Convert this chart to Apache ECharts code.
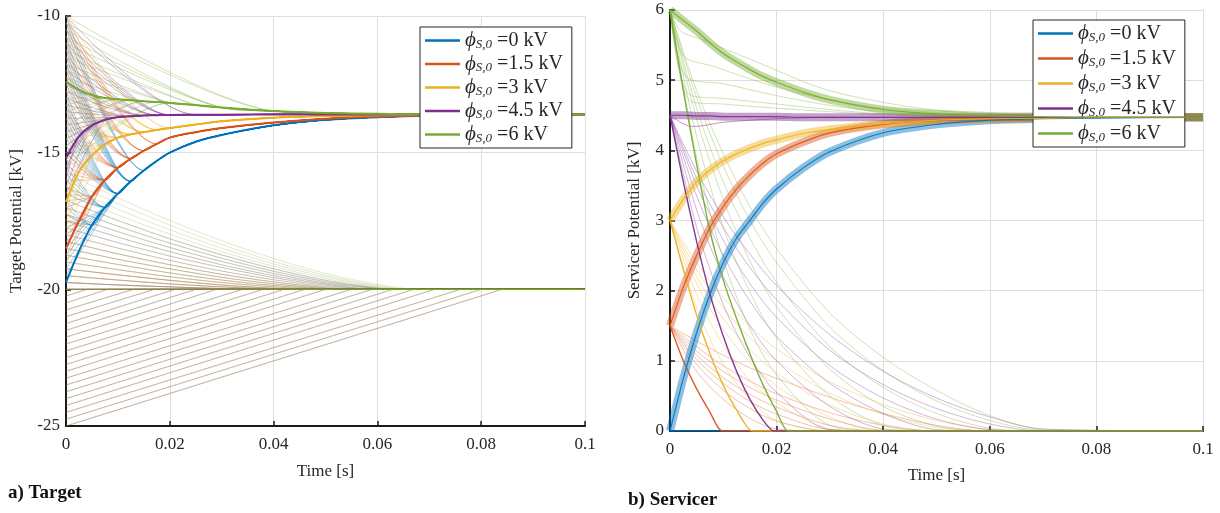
<!DOCTYPE html>
<html>
<head>
<meta charset="utf-8">
<script src="https://cdn.jsdelivr.net/npm/echarts@6/dist/echarts.min.js"></script>
<style>
  html, body { margin: 0; background: #fff; }
  #main { width: 1220px; height: 513px; }
</style>
</head>
<body>
<div id="main"></div>
<script>
// servicer initial potential families (legend)
const phiLabels = ['0', '1.5', '3', '4.5', '6'];
const colors = ['#0072BD', '#D95319', '#EDB120', '#7E2F8E', '#77AC30'];

// common time grid for the main (bold) trajectories
const tB = [0, 0.0025, 0.005, 0.0075, 0.01, 0.0125, 0.015, 0.0175, 0.02, 0.025, 0.03, 0.04, 0.05, 0.06, 0.07, 0.08, 0.1];

// ---- a) target potential, main trajectories [kV]
const tgtBlue   = [-19.75, -18.6, -17.65, -17.0, -16.5, -16.05, -15.65, -15.3, -15.0, -14.6, -14.35, -14.0, -13.8, -13.7, -13.65, -13.62, -13.6];
const tgtOrange = [-18.5, -17.5, -16.6, -16.0, -15.55, -15.22, -14.93, -14.68, -14.45, -14.25, -14.1, -13.9, -13.76, -13.68, -13.64, -13.62, -13.6];
const tgtYellow = [-16.8, -15.7, -15.1, -14.7, -14.45, -14.33, -14.25, -14.17, -14.1, -13.97, -13.85, -13.72, -13.66, -13.63, -13.61, -13.6, -13.6];
const tgtPurple = [-15.2, -14.4, -14.0, -13.8, -13.7, -13.67, -13.64, -13.63, -13.62, -13.61, -13.61, -13.6, -13.6, -13.6, -13.6, -13.6, -13.6];
const tgtGreen  = [-12.4, -12.7, -12.9, -13.0, -13.05, -13.08, -13.12, -13.15, -13.18, -13.26, -13.35, -13.48, -13.55, -13.58, -13.6, -13.6, -13.6];

// thin target runs that settle onto the main trajectory: start value and the time they join it
const blueStarts = [-10, -10.25, -10.5, -10.75, -11, -11.25, -11.5, -11.75, -12, -12.25, -12.5, -12.75, -13, -13.25, -13.5, -13.75, -14, -14.25, -14.5, -14.75,
  -15, -15.25, -15.5, -15.75, -16, -16.25, -16.5, -16.75, -17, -17.25, -17.5, -17.75, -18, -18.25, -18.5, -18.75, -19, -19.25, -19.5];
const blueJoin = [0.015, 0.015, 0.015, 0.0125, 0.0125, 0.0125, 0.0125, 0.0125, 0.0125, 0.0125, 0.0125, 0.01, 0.01, 0.01, 0.01, 0.01, 0.01, 0.01, 0.01, 0.01,
  0.01, 0.0075, 0.0075, 0.0075, 0.0075, 0.0075, 0.0075, 0.005, 0.005, 0.005, 0.005, 0.0075, 0.0075, 0.0075, 0.0075, 0.01, 0.01, 0.01, 0.01];
const orangeStarts = [-10, -10.25, -10.5, -10.75, -11, -11.25, -11.5, -11.75, -12, -12.25, -12.5, -12.75, -13, -13.25, -13.5, -13.75, -14, -14.25, -14.5,
  -14.75, -15, -15.25, -15.5, -15.75, -16, -16.25, -16.5, -16.75, -17, -17.25, -17.5, -17.75, -18, -18.25, -18.5, -18.75, -19];
const orangeJoin = [0.0175, 0.0175, 0.0175, 0.015, 0.015, 0.015, 0.015, 0.0125, 0.0125, 0.0125, 0.0125, 0.0125, 0.0125, 0.01, 0.01, 0.01, 0.01, 0.01, 0.01,
  0.0075, 0.0075, 0.0075, 0.0075, 0.0075, 0.0075, 0.005, 0.005, 0.005, 0.005, 0.0025, 0.0025, 0.0025, 0.0025, 0.005, 0.005, 0.0075, 0.0075];
const yellowStarts = [-10, -10.25, -10.5, -10.75, -11, -11.25, -11.5, -11.75, -12, -12.25, -12.5, -12.75, -13, -13.25, -13.5, -13.75, -14,
  -14.25, -14.5, -14.75, -15, -15.25, -15.5, -15.75, -16, -16.25, -16.5, -16.75, -17, -17.25, -17.5, -17.75, -18];
const yellowJoin = [0.02, 0.02, 0.0175, 0.0175, 0.0175, 0.0175, 0.015, 0.015, 0.015, 0.015, 0.0125, 0.0125, 0.0125, 0.0125, 0.01, 0.01, 0.01,
  0.01, 0.0075, 0.0075, 0.0075, 0.0075, 0.005, 0.005, 0.005, 0.005, 0.0025, 0.0025, 0.0025, 0.0025, 0.005, 0.005, 0.0075];
const purpleStarts = [-10, -10.25, -10.5, -10.75, -11, -11.25, -11.5, -11.75, -12, -12.25, -12.5, -12.75, -13, -13.25,
  -13.5, -13.75, -14, -14.25, -14.5, -14.75, -15, -15.25, -15.5, -15.75, -16, -16.25, -16.5];
const purpleJoin = [0.025, 0.025, 0.02, 0.02, 0.02, 0.02, 0.0175, 0.0175, 0.0175, 0.015, 0.015, 0.015, 0.0125, 0.0125,
  0.0125, 0.01, 0.01, 0.01, 0.0075, 0.0075, 0.005, 0.005, 0.005, 0.0025, 0.0025, 0.005, 0.0075];
const greenStarts = [-10, -10.25, -10.5, -10.75, -11, -11.25, -11.5, -11.75, -12, -12.25, -12.5, -12.75,
  -13, -13.25, -13.5, -13.75, -14, -14.25, -14.5, -14.75, -15, -15.25, -15.5];
const greenJoin = [0.04, 0.04, 0.03, 0.03, 0.03, 0.025, 0.025, 0.02, 0.02, 0.015, 0.0075, 0.005,
  0.0075, 0.0075, 0.01, 0.01, 0.0125, 0.0125, 0.015, 0.015, 0.0175, 0.02, 0.02];

// thin target runs that fall back to -20 kV (values at tDecL, then end time)
const tDecL = [0, 0.01, 0.02, 0.03, 0.04, 0.05, 0.06];
const tgtDecay = [
  [-15.75, -16.65, -17.48, -18.22, -18.87, -19.42, -19.82],
  [-16.0, -16.86, -17.65, -18.36, -18.98, -19.49, -19.87],
  [-16.25, -17.07, -17.82, -18.49, -19.07, -19.55, -19.9],
  [-16.5, -17.28, -17.98, -18.62, -19.16, -19.61, -19.93],
  [-16.75, -17.48, -18.15, -18.74, -19.25, -19.67, -19.95],
  [-17.0, -17.69, -18.31, -18.86, -19.34, -19.72, -19.97],
  [-17.25, -17.89, -18.47, -18.98, -19.42, -19.77, -19.98],
  [-17.5, -18.09, -18.62, -19.1, -19.5, -19.81, -20],
  [-17.75, -18.29, -18.78, -19.2, -19.57, -19.85],
  [-18.0, -18.49, -18.94, -19.33, -19.65, -19.9],
  [-18.25, -18.7, -19.1, -19.45, -19.73, -19.94],
  [-18.5, -18.9, -19.25, -19.56, -19.8, -19.97],
  [-18.75, -19.09, -19.4, -19.66, -19.86, -19.99],
  [-19.0, -19.28, -19.54, -19.75, -19.91],
  [-19.25, -19.47, -19.67, -19.84, -19.96],
  [-19.5, -19.66, -19.8, -19.91, -19.99],
  [-19.75, -19.84, -19.91, -19.97]
];
const tgtDecayEnd = [0.068, 0.067, 0.066, 0.065, 0.064, 0.063, 0.062, 0.061, 0.06, 0.058, 0.056, 0.054, 0.052, 0.05, 0.047, 0.044, 0.04];

// straight ramps from below up to -20 kV
const rampStarts = [-20.25, -20.5, -20.75, -21, -21.25, -21.5, -21.75, -22, -22.25, -22.5, -22.75, -23, -23.25, -23.5, -23.75, -24, -24.25, -24.5, -24.75, -25];
const rampEnds   = [0.004, 0.008, 0.013, 0.017, 0.021, 0.025, 0.029, 0.034, 0.038, 0.042, 0.046, 0.05, 0.055, 0.059, 0.063, 0.067, 0.071, 0.076, 0.08, 0.084];

// ---- b) servicer potential, main bands [kV]
const svcBlue   = [0, 0.75, 1.4, 1.95, 2.4, 2.75, 3.0, 3.25, 3.45, 3.75, 3.98, 4.25, 4.37, 4.43, 4.45, 4.46, 4.47];
const svcOrange = [1.5, 2.05, 2.5, 2.9, 3.2, 3.45, 3.65, 3.82, 3.95, 4.12, 4.25, 4.37, 4.43, 4.45, 4.46, 4.47, 4.47];
const svcYellow = [3.0, 3.3, 3.55, 3.72, 3.85, 3.95, 4.03, 4.1, 4.15, 4.24, 4.3, 4.38, 4.43, 4.45, 4.46, 4.47, 4.47];
const svcPurple = [4.5, 4.5, 4.49, 4.49, 4.48, 4.48, 4.48, 4.48, 4.48, 4.47, 4.47, 4.47, 4.47, 4.47, 4.47, 4.47, 4.47];
const svcGreen  = [6.0, 5.85, 5.7, 5.53, 5.38, 5.26, 5.15, 5.05, 4.97, 4.83, 4.72, 4.58, 4.52, 4.49, 4.48, 4.47, 4.47];

// steep drops to zero (values at tSteep, then end time)
const tSteep = [0, 0.0025, 0.005, 0.0075, 0.01, 0.0125, 0.015, 0.0175, 0.02];
const steepOrange = [1.5, 1.0, 0.6, 0.27];
const steepYellow = [3, 2.3, 1.65, 1.1, 0.65, 0.3];
const steepPurple = [4.5, 3.55, 2.7, 1.95, 1.35, 0.85, 0.45, 0.15];
const steepGreen  = [6, 4.85, 3.8, 2.85, 2.15, 1.6, 1.1, 0.65, 0.28];
const steepEnd = [0, 0.0098, 0.0155, 0.0195, 0.0222];

// slower decays to zero (values at tDecR)
const tDecR = [0, 0.005, 0.01, 0.015, 0.02, 0.03, 0.04, 0.05, 0.06, 0.07];
const orangeDecay = [
  [1.5, 0.85, 0.45, 0.18, 0.03, 0],
  [1.5, 0.95, 0.58, 0.32, 0.14, 0],
  [1.5, 1.02, 0.68, 0.42, 0.24, 0.02, 0],
  [1.5, 1.08, 0.76, 0.52, 0.34, 0.08, 0],
  [1.5, 1.14, 0.85, 0.62, 0.44, 0.17, 0.01, 0],
  [1.5, 1.2, 0.93, 0.71, 0.53, 0.26, 0.08, 0],
  [1.5, 1.28, 1.08, 0.9, 0.75, 0.48, 0.25, 0.08, 0]
];
const yellowDecay = [
  [3, 1.75, 0.95, 0.45, 0.15, 0],
  [3, 1.95, 1.22, 0.72, 0.4, 0.03, 0],
  [3, 2.1, 1.45, 0.98, 0.64, 0.2, 0],
  [3, 2.2, 1.6, 1.16, 0.83, 0.37, 0.1, 0],
  [3, 2.3, 1.75, 1.33, 1.0, 0.54, 0.24, 0.05, 0],
  [3, 2.4, 1.9, 1.5, 1.17, 0.7, 0.38, 0.15, 0.02, 0]
];
const purpleDecay = [
  [4.5, 2.9, 1.8, 1.05, 0.55, 0.02, 0],
  [4.5, 3.15, 2.2, 1.5, 1.0, 0.35, 0.03, 0],
  [4.5, 3.35, 2.5, 1.85, 1.35, 0.68, 0.25, 0.02, 0],
  [4.5, 3.5, 2.72, 2.1, 1.62, 0.93, 0.47, 0.17, 0.02, 0],
  [4.5, 3.6, 2.9, 2.33, 1.87, 1.15, 0.66, 0.32, 0.1, 0],
  [4.5, 3.7, 3.05, 2.52, 2.07, 1.37, 0.85, 0.47, 0.2, 0.03]
];
const greenDecay = [
  [6, 3.9, 2.45, 1.45, 0.8, 0.08, 0],
  [6, 4.2, 2.9, 1.98, 1.32, 0.5, 0.08, 0],
  [6, 4.45, 3.3, 2.42, 1.77, 0.88, 0.35, 0.07, 0],
  [6, 4.6, 3.55, 2.75, 2.12, 1.2, 0.62, 0.25, 0.04, 0],
  [6, 4.75, 3.78, 3.0, 2.4, 1.48, 0.86, 0.43, 0.15, 0.01],
  [6, 4.85, 3.95, 3.2, 2.6, 1.68, 1.05, 0.58, 0.22, 0.02]
];

// green runs that drop from 6 kV and level off above the equilibrium
const greenBranches = [
  [[0, 6], [0.002, 5.7], [0.006, 5.58], [0.015, 5.3], [0.03, 4.85], [0.05, 4.57], [0.07, 4.5], [0.1, 4.47]],
  [[0, 6], [0.0025, 5.35], [0.008, 5.2], [0.02, 4.9], [0.03, 4.72], [0.04, 4.6], [0.06, 4.5], [0.1, 4.47]],
  [[0, 6], [0.003, 5.05], [0.01, 4.95], [0.02, 4.78], [0.03, 4.64], [0.04, 4.55], [0.06, 4.49], [0.1, 4.47]],
  [[0, 6], [0.0035, 4.8], [0.01, 4.74], [0.02, 4.66], [0.03, 4.58], [0.04, 4.52], [0.06, 4.48], [0.1, 4.47]],
  [[0, 6], [0.0038, 4.7], [0.01, 4.66], [0.02, 4.6], [0.04, 4.51], [0.06, 4.48], [0.1, 4.47]]
];
const purpleDip = [[0, 4.5], [0.002, 4.4], [0.004, 4.34], [0.006, 4.35], [0.01, 4.4], [0.02, 4.45], [0.03, 4.47], [0.1, 4.47]];

// ---------------------------------------------------------------
const serif = 'Liberation Serif';
const series = [];

function line(g, data, color, opts) {
  opts = opts || {};
  series.push({
    type: 'line', name: opts.name, xAxisIndex: g, yAxisIndex: g, data: data,
    symbol: 'none', silent: true, animation: false,
    smooth: opts.smooth === undefined ? 0.3 : opts.smooth,
    color: color,
    lineStyle: { color: color, width: opts.width || 1, opacity: opts.opacity === undefined ? 0.3 : opts.opacity },
    z: opts.z || 2
  });
}

const tgtMain = [tgtBlue, tgtOrange, tgtYellow, tgtPurple, tgtGreen];
const starts = [blueStarts, orangeStarts, yellowStarts, purpleStarts, greenStarts];
const joins = [blueJoin, orangeJoin, yellowJoin, purpleJoin, greenJoin];

// a) target
for (let f = 0; f < 5; f++) {
  rampStarts.forEach((v0, k) => {
    line(0, [[0, v0], [rampEnds[k], -20], [0.1, -20]], colors[f], { smooth: false, opacity: 0.14 });
  });
}
for (let f = 0; f < 5; f++) {
  const main = tB.map((t, i) => [t, tgtMain[f][i]]);
  starts[f].forEach((v0, k) => {
    line(0, [[0, v0]].concat(main.filter(p => p[0] >= joins[f][k])), colors[f], { opacity: 0.34 });
  });
  const lowest = starts[f][starts[f].length - 1];
  tgtDecay.forEach((vals, k) => {
    if (vals[0] >= lowest) return;
    const pts = vals.map((v, i) => [tDecL[i], v]);
    pts.push([tgtDecayEnd[k], -20], [0.1, -20]);
    line(0, pts, colors[f], { opacity: 0.24 });
  });
  line(0, [[0, -20], [0.1, -20]], colors[f], { opacity: 0.6 });
}
for (let f = 0; f < 5; f++) {
  line(0, tB.map((t, i) => [t, tgtMain[f][i]]), colors[f], { name: phiLabels[f], width: 2, opacity: 1, z: 3 });
}

// b) servicer
const svcMain = [svcBlue, svcOrange, svcYellow, svcPurple, svcGreen];
const steep = [[0], steepOrange, steepYellow, steepPurple, steepGreen];
const decays = [[], orangeDecay, yellowDecay, purpleDecay, greenDecay];
for (let f = 0; f < 5; f++) {
  decays[f].forEach(vals => {
    const pts = vals.map((v, i) => [tDecR[i], v]);
    pts.push([0.1, 0]);
    line(1, pts, colors[f], { opacity: 0.35 });
  });
}
greenBranches.forEach(pts => line(1, pts, colors[4], { opacity: 0.35 }));
line(1, purpleDip, colors[3], { opacity: 0.5 });
for (let f = 0; f < 5; f++) {
  line(1, tB.map((t, i) => [t, svcMain[f][i]]), colors[f], { width: 8, opacity: 0.45, z: 3 });
}
for (let f = 0; f < 5; f++) {
  const pts = steep[f].map((v, i) => [tSteep[i], v]);
  if (f > 0) pts.push([steepEnd[f], 0]);
  pts.push([0.1, 0]);
  line(1, pts, colors[f], { width: 1.4, opacity: 0.95, z: 4, smooth: 0.2 });
}
for (let f = 0; f < 5; f++) {
  line(1, tB.map((t, i) => [t, svcMain[f][i]]), colors[f], { name: phiLabels[f], width: 1.2, opacity: 0.9, z: 4 });
}

// ---------------------------------------------------------------
const axisText = { color: '#262626', fontFamily: serif, fontSize: 17 };

function xAxis(g, nameGap) {
  return {
    type: 'value', gridIndex: g, min: 0, max: 0.1, interval: 0.02,
    name: 'Time [s]', nameLocation: 'middle', nameGap: nameGap,
    nameTextStyle: axisText,
    axisLine: { show: true, lineStyle: { color: '#1a1a1a', width: 2 } },
    axisTick: { show: true, inside: true, length: 5, lineStyle: { color: '#1a1a1a', width: 1.5 } },
    axisLabel: Object.assign({ margin: 10, formatter: v => String(+v.toFixed(2)) }, axisText),
    splitLine: { show: true, lineStyle: { color: '#dedede', width: 1 } }
  };
}
function yAxis(g, min, max, interval, name, nameGap) {
  return {
    type: 'value', gridIndex: g, min: min, max: max, interval: interval,
    name: name, nameLocation: 'middle', nameGap: nameGap, nameRotate: 90,
    nameTextStyle: axisText,
    axisLine: { show: true, lineStyle: { color: '#1a1a1a', width: 2 } },
    axisTick: { show: true, inside: true, length: 5, lineStyle: { color: '#1a1a1a', width: 1.5 } },
    axisLabel: Object.assign({ margin: 6 }, axisText),
    splitLine: { show: true, lineStyle: { color: '#dedede', width: 1 } }
  };
}

function legend(left, top, gap) {
  return {
    left: left, top: top, orient: 'vertical',
    data: phiLabels.map(n => ({ name: n, icon: 'rect' })),
    backgroundColor: '#fff', borderColor: '#262626', borderWidth: 1,
    padding: [3, 9, 3, 5], itemGap: gap, itemWidth: 35, itemHeight: 2.5,
    selectedMode: false,
    formatter: name => '{p|ϕ}{s|S,0}{t| =' + name + ' kV}',
    textStyle: {
      color: '#262626',
      rich: {
        p: { fontFamily: serif, fontStyle: 'italic', fontSize: 21, lineHeight: 22 },
        s: { fontFamily: serif, fontStyle: 'italic', fontSize: 13, lineHeight: 14, padding: [8, 0, 0, 0] },
        t: { fontFamily: serif, fontSize: 20, lineHeight: 22 }
      }
    }
  };
}

const chart = echarts.init(document.getElementById('main'));
const option = {
  backgroundColor: '#fff',
  animation: false,
  grid: [
    { left: 66, top: 16, width: 519, height: 410 },
    { left: 670, top: 10, width: 533, height: 421 }
  ],
  xAxis: [xAxis(0, 37), xAxis(1, 36)],
  yAxis: [
    yAxis(0, -25, -10, 5, 'Target Potential [kV]', 41),
    yAxis(1, 0, 6, 1, 'Servicer Potential [kV]', 27)
  ],
  legend: [legend(420, 27, 2.5), legend(1033, 20, 4)],
  graphic: [
    { type: 'text', left: 8, top: 484, style: { text: 'a) Target', font: 'bold 19px "Liberation Serif"', fill: '#111' } },
    { type: 'text', left: 628, top: 491, style: { text: 'b) Servicer', font: 'bold 19px "Liberation Serif"', fill: '#111' } }
  ],
  series: series
};
chart.setOption(option);
</script>
</body>
</html>
